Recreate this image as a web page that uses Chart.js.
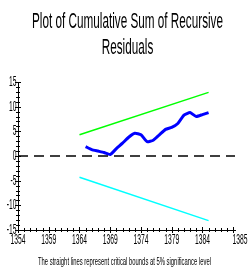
<!DOCTYPE html>
<html>
<head>
<meta charset="utf-8">
<script src="https://cdn.jsdelivr.net/npm/chart.js@4"></script>
<style>
  html, body { margin: 0; padding: 0; background: #fff; }
  #wrap { width: 251px; height: 270px; }
</style>
</head>
<body>
<div id="wrap"><canvas id="cusum"></canvas></div>
<script>
// values
const years = [1365, 1366, 1367, 1368, 1369, 1370, 1371, 1372, 1373, 1374, 1375,
               1376, 1377, 1378, 1379, 1380, 1381, 1382, 1383, 1384, 1385];
const cusum = [1.9, 1.3, 1.0, 0.7, 0.3, 1.5, 2.6, 3.8, 4.6, 4.3, 2.9,
               3.2, 4.3, 5.4, 5.8, 6.6, 8.3, 8.8, 8.0, 8.4, 8.8];
const boundYears = [1364, 1385];
const upperBound = [4.3, 12.9];
const lowerBound = [-4.3, -13.1];

const xMin = 1354, xMax = 1389.3;
const xTicks = [1354, 1359, 1364, 1369, 1374, 1379, 1384, xMax];
const xTickLabels = ["1354", "1359", "1364", "1369", "1374", "1379", "1384", "1385"];
const yTicks = [-15, -10, -5, 0, 5, 10, 15];
const yTickLabels = ["-15", "-10", "-5", "0", "5", "10", "15"];

const titleLines = ["Plot of Cumulative Sum of Recursive", "Residuals"];
const footNote = "The straight lines represent critical bounds at 5% significance level";

const FONT = '"Liberation Sans", Arial, sans-serif';

function pairs(xs, ys) {
  return xs.map((x, i) => ({ x: x, y: ys[i] }));
}

// narrow text, the original uses a squeezed face
function narrowText(ctx, text, x, y, size, sx, align) {
  ctx.save();
  ctx.font = size + "px " + FONT;
  ctx.translate(x, y);
  ctx.scale(sx, 1);
  ctx.textAlign = align;
  ctx.textBaseline = "middle";
  ctx.fillText(text, 0, 0);
  ctx.restore();
}

const decor = {
  id: "decor",
  afterDraw(chart) {
    const ctx = chart.ctx;
    const xs = chart.scales.x, ys = chart.scales.y;
    const area = chart.chartArea;
    ctx.save();
    ctx.fillStyle = "#000";

    // title
    ctx.font = "22px " + FONT;
    const sx = 191 / ctx.measureText(titleLines[0]).width;
    narrowText(ctx, titleLines[0], 127.5, 22, 22, sx, "center");
    narrowText(ctx, titleLines[1], 127.5, 48, 22, sx, "center");

    // foot note
    ctx.font = "10px " + FONT;
    const fx = 173 / ctx.measureText(footNote).width;
    narrowText(ctx, footNote, 124.5, 262, 10, fx, "center");

    // minor / major tick marks
    ctx.strokeStyle = "#000";
    ctx.lineWidth = 1;
    ctx.beginPath();
    for (let v = -15; v <= 15; v++) {
      const py = Math.round(ys.getPixelForValue(v)) + 0.5;
      const len = v % 5 === 0 ? 3 : 2;
      ctx.moveTo(area.left - len, py);
      ctx.lineTo(area.left + len, py);
    }
    for (let yr = xMin; yr <= 1389; yr++) {
      const px = Math.round(xs.getPixelForValue(yr)) + 0.5;
      const len = (yr - xMin) % 5 === 0 ? 3 : 2;
      ctx.moveTo(px, area.bottom - len);
      ctx.lineTo(px, area.bottom + len);
    }
    ctx.stroke();

    // tick labels
    yTicks.forEach((v, i) => {
      narrowText(ctx, yTickLabels[i], area.left - 1.5, ys.getPixelForValue(v), 14, 0.48, "right");
    });
    xTicks.forEach((v, i) => {
      let px = xs.getPixelForValue(v);
      if (i === xTicks.length - 1) px += 5;
      narrowText(ctx, xTickLabels[i], px, 240, 14, 0.48, "center");
    });
    ctx.restore();
  }
};

const ctx = document.getElementById("cusum").getContext("2d");

new Chart(ctx, {
  type: "line",
  data: {
    datasets: [
      {
        data: pairs([xMin, xMax], [0, 0]),
        borderColor: "#000",
        borderWidth: 1.6,
        borderDash: [10, 6],
        pointRadius: 0
      },
      {
        data: pairs(boundYears, upperBound),
        borderColor: "#00ff00",
        borderWidth: 1.5,
        pointRadius: 0
      },
      {
        data: pairs(boundYears, lowerBound),
        borderColor: "#00ffff",
        borderWidth: 1.5,
        pointRadius: 0
      },
      {
        data: pairs(years, cusum),
        borderColor: "#0000ff",
        borderWidth: 3,
        tension: 0.15,
        pointRadius: 0
      }
    ]
  },
  plugins: [decor],
  options: {
    responsive: true,
    maintainAspectRatio: false,
    animation: false,
    layout: { padding: { left: 18, right: 16, top: 82, bottom: 40 } },
    plugins: {
      legend: { display: false },
      title: { display: false },
      tooltip: { enabled: false }
    },
    scales: {
      x: {
        type: "linear",
        min: xMin,
        max: xMax,
        grid: { display: false },
        ticks: { display: false },
        border: { display: true, color: "#000", width: 1 },
        afterFit(s) { s.height = 0; }
      },
      y: {
        min: -15,
        max: 15,
        grid: { display: false },
        ticks: { display: false },
        border: { display: true, color: "#000", width: 1 },
        afterFit(s) { s.width = 0; }
      }
    }
  }
});
</script>
</body>
</html>
